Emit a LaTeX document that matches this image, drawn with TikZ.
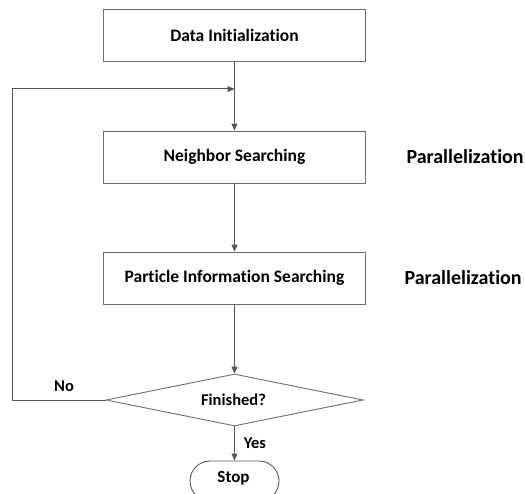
\documentclass[tikz,border=0pt]{standalone}
\usepackage{fontspec}
\setmainfont[Ligatures=NoCommon]{Carlito}
\usetikzlibrary{arrows.meta,shapes.geometric,shapes.misc}
\definecolor{linec}{HTML}{555555}
\definecolor{boxc}{HTML}{6E6E6E}
\tikzset{
  procbox/.style={draw=boxc, line width=0.9pt, minimum width=262pt, minimum height=52pt, inner sep=0pt, font=\bfseries\fontsize{17.5}{20}\selectfont},
  decbox/.style={draw=boxc, line width=0.9pt, diamond, aspect=4.95, minimum width=257pt, minimum height=52pt, inner sep=0pt},
  termbox/.style={draw=linec, line width=0.9pt, rounded rectangle, minimum width=89pt, minimum height=40pt, inner sep=0pt},
  lbl/.style={font=\bfseries\fontsize{16.5}{19}\selectfont},
  biglbl/.style={font=\bfseries\fontsize{20}{23}\selectfont},
  conn/.style={draw=linec, line width=1pt, -{Triangle[length=7pt,width=6pt]}},
  plain/.style={draw=linec, line width=1pt}
}
\begin{document}
\begin{tikzpicture}[x=1pt,y=-1pt]
\useasboundingbox (0,0) rectangle (525,494);
\node[procbox] (init) at (234.5,35.5) {Data Initialization};
\node[procbox] (neigh) at (234.5,157) {Neighbor Searching};
\node[procbox] (part) at (234.5,278) {Particle Information Searching};
\node[decbox] (fin) at (234.5,400) {};
\node[lbl] (finlbl) at (233.5,399.5) {Finished?};
\node[termbox] (stop) at (234.5,481) {};
\node[lbl, font=\bfseries\fontsize{17}{20}\selectfont] (stoplbl) at (233.5,478) {Stop};
\node[biglbl, anchor=west] (par1) at (403,157) {Parallelization};
\node[biglbl, anchor=west] (par2) at (401,278) {Parallelization};
\node[lbl] (no) at (64,386) {No};
\node[lbl] (yes) at (255,443) {Yes};
\coordinate (merge) at (234.5,89);
\coordinate (cornerA) at (12,400);
\coordinate (cornerB) at (12,89);
\draw[plain] (init.south) -- (merge);
\draw[conn] (merge) -- (neigh.north);
\draw[conn] (neigh.south) -- (part.north);
\draw[conn] (part.south) -- (fin.north);
\draw[conn] (fin.south) -- (stop.north);
\draw[conn] (fin.west) -- (cornerA) -- (cornerB) -- (merge);
\end{tikzpicture}
\end{document}
